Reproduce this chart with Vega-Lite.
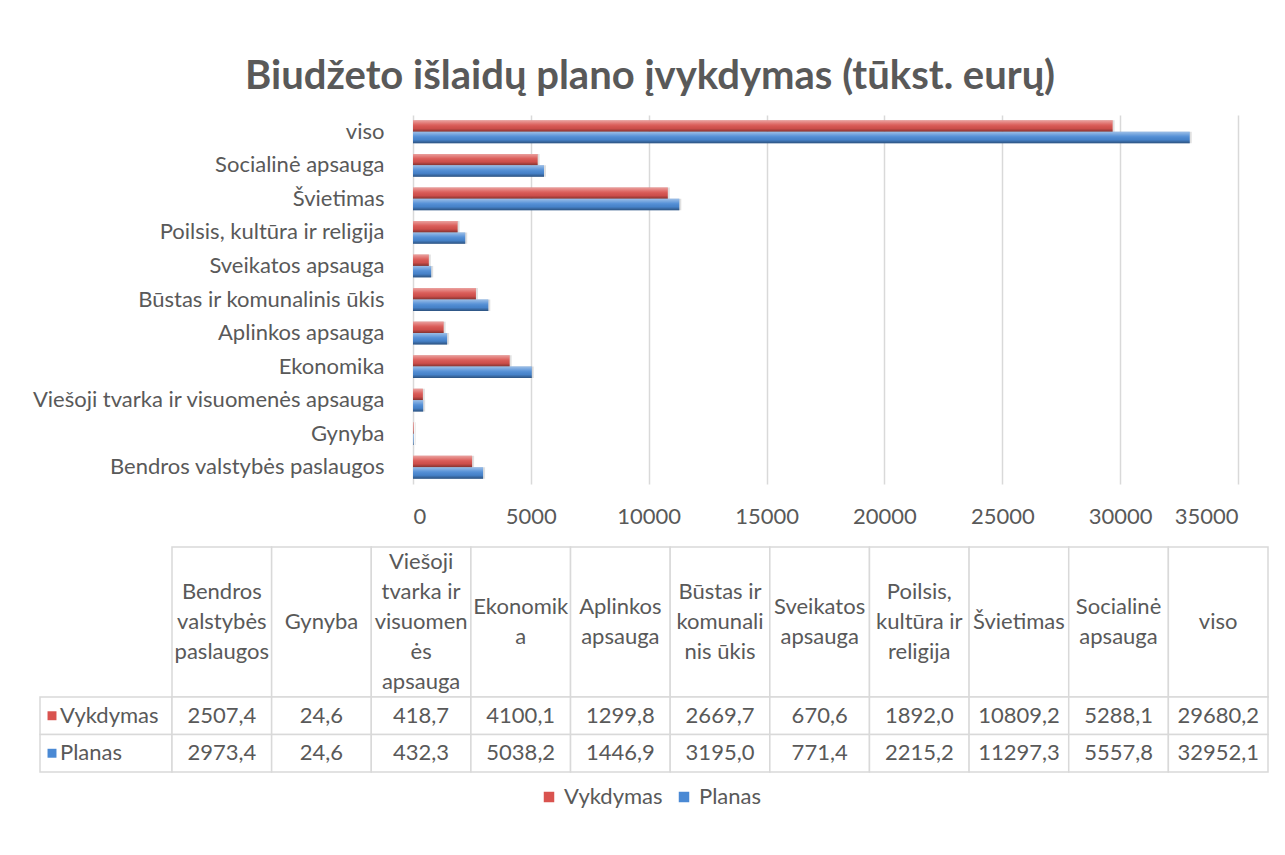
{
  "$schema": "https://vega.github.io/schema/vega-lite/v6.json",
  "padding": {"left": 31, "top": 57, "right": 0, "bottom": 0},
  "background": "white",
  "config": {
    "font": "Lato",
    "locale": {"number": {"decimal": ",", "thousands": "", "grouping": [3], "currency": ["", ""]}},
    "view": {"stroke": null},
    "axis": {"labelFont": "Lato", "labelColor": "#595959"},
    "legend": {"labelFont": "Lato", "labelColor": "#595959", "labelFontSize": 22, "layout": {"bottom": {"anchor": "middle"}}}
  },
  "title": {
    "text": "Biudžeto išlaidų plano įvykdymas (tūkst. eurų)",
    "fontSize": 40,
    "fontWeight": "bold",
    "color": "#595959",
    "font": "Lato",
    "anchor": "middle",
    "offset": 18
  },
  "datasets": {
    "budget": [
      {"cat": "Bendros valstybės paslaugos", "series": "Vykdymas", "value": 2507.4},
      {"cat": "Bendros valstybės paslaugos", "series": "Planas", "value": 2973.4},
      {"cat": "Gynyba", "series": "Vykdymas", "value": 24.6},
      {"cat": "Gynyba", "series": "Planas", "value": 24.6},
      {"cat": "Viešoji tvarka ir visuomenės apsauga", "series": "Vykdymas", "value": 418.7},
      {"cat": "Viešoji tvarka ir visuomenės apsauga", "series": "Planas", "value": 432.3},
      {"cat": "Ekonomika", "series": "Vykdymas", "value": 4100.1},
      {"cat": "Ekonomika", "series": "Planas", "value": 5038.2},
      {"cat": "Aplinkos apsauga", "series": "Vykdymas", "value": 1299.8},
      {"cat": "Aplinkos apsauga", "series": "Planas", "value": 1446.9},
      {"cat": "Būstas ir komunalinis ūkis", "series": "Vykdymas", "value": 2669.7},
      {"cat": "Būstas ir komunalinis ūkis", "series": "Planas", "value": 3195.0},
      {"cat": "Sveikatos apsauga", "series": "Vykdymas", "value": 670.6},
      {"cat": "Sveikatos apsauga", "series": "Planas", "value": 771.4},
      {"cat": "Poilsis, kultūra ir religija", "series": "Vykdymas", "value": 1892.0},
      {"cat": "Poilsis, kultūra ir religija", "series": "Planas", "value": 2215.2},
      {"cat": "Švietimas", "series": "Vykdymas", "value": 10809.2},
      {"cat": "Švietimas", "series": "Planas", "value": 11297.3},
      {"cat": "Socialinė apsauga", "series": "Vykdymas", "value": 5288.1},
      {"cat": "Socialinė apsauga", "series": "Planas", "value": 5557.8},
      {"cat": "viso", "series": "Vykdymas", "value": 29680.2},
      {"cat": "viso", "series": "Planas", "value": 32952.1}
    ],
    "headers": [
      {"cat": "Bendros valstybės paslaugos", "header": "Bendros\nvalstybės\npaslaugos"},
      {"cat": "Gynyba", "header": "Gynyba"},
      {"cat": "Viešoji tvarka ir visuomenės apsauga", "header": "Viešoji\ntvarka ir\nvisuomen\nės\napsauga"},
      {"cat": "Ekonomika", "header": "Ekonomik\na"},
      {"cat": "Aplinkos apsauga", "header": "Aplinkos\napsauga"},
      {"cat": "Būstas ir komunalinis ūkis", "header": "Būstas ir\nkomunali\nnis ūkis"},
      {"cat": "Sveikatos apsauga", "header": "Sveikatos\napsauga"},
      {"cat": "Poilsis, kultūra ir religija", "header": "Poilsis,\nkultūra ir\nreligija"},
      {"cat": "Švietimas", "header": "Švietimas"},
      {"cat": "Socialinė apsauga", "header": "Socialinė\napsauga"},
      {"cat": "viso", "header": "viso"}
    ],
    "series": [
      {"series": "Vykdymas"},
      {"series": "Planas"}
    ]
  },
  "resolve": {"scale": {"color": "shared"}, "legend": {"color": "shared"}},
  "columns": 1,
  "spacing": 19,
  "concat": [
    {
      "width": 1198,
      "height": 369,
      "data": {"name": "budget"},
      "encoding": {
        "y": {
          "field": "cat",
          "type": "nominal",
          "sort": ["viso", "Socialinė apsauga", "Švietimas", "Poilsis, kultūra ir religija", "Sveikatos apsauga", "Būstas ir komunalinis ūkis", "Aplinkos apsauga", "Ekonomika", "Viešoji tvarka ir visuomenės apsauga", "Gynyba", "Bendros valstybės paslaugos"],
          "scale": {"paddingInner": 0.32, "paddingOuter": 0.16},
          "axis": {"title": null, "domain": false, "ticks": false, "offset": -373, "labelPadding": 29, "labelFontSize": 22, "labelLimit": 500}
        },
        "yOffset": {
          "field": "series",
          "type": "nominal",
          "sort": ["Vykdymas", "Planas"],
          "scale": {"paddingInner": 0.0}
        },
        "x": {
          "field": "value",
          "type": "quantitative",
          "scale": {"domain": [0, 35000], "nice": false, "range": [373, 1198]},
          "axis": {"title": null, "values": [0, 5000, 10000, 15000, 20000, 25000, 30000, 35000], "format": "d", "domain": false, "ticks": false, "grid": true, "gridColor": "#D9D9D9", "gridWidth": 1.5, "labelPadding": 22, "labelFontSize": 22}
        }
      },
      "layer": [
        {
          "mark": {"type": "bar", "color": "#000000", "opacity": 0.12, "xOffset": 2, "yOffset": 3},
          "encoding": {}
        },
        {
          "mark": {"type": "bar"},
          "encoding": {
            "color": {
              "field": "series",
              "type": "nominal",
              "scale": {"domain": ["Vykdymas", "Planas"], "range": ["#D9534F", "#4A89D4"]},
              "legend": {"title": null, "orient": "bottom", "direction": "horizontal", "symbolType": "square", "symbolSize": 110, "columnPadding": 10, "labelOffset": 4, "offset": 13}
            }
          }
        },
        {
          "mark": {
            "type": "bar",
            "color": {
              "gradient": "linear", "x1": 0, "y1": 0, "x2": 0, "y2": 1,
              "stops": [
                {"offset": 0, "color": "rgba(255,255,255,0.45)"},
                {"offset": 0.4, "color": "rgba(255,255,255,0.08)"},
                {"offset": 0.7, "color": "rgba(0,0,0,0.05)"},
                {"offset": 1, "color": "rgba(0,0,0,0.4)"}
              ]
            }
          },
          "encoding": {}
        }
      ]
    },
    {
      "columns": 2,
      "spacing": 0,
      "bounds": "flush",
      "concat": [
        {
          "width": 132,
          "height": 150,
          "data": {"values": [{"t": ""}]},
          "mark": {"type": "text"},
          "encoding": {"text": {"field": "t"}}
        },
        {
          "width": 1096,
          "height": 150,
          "data": {"name": "headers"},
          "transform": [{"calculate": "length(split(datum.header, '\\n'))", "as": "nlines"}],
          "encoding": {
            "x": {"field": "cat", "type": "nominal", "sort": ["Bendros valstybės paslaugos", "Gynyba", "Viešoji tvarka ir visuomenės apsauga", "Ekonomika", "Aplinkos apsauga", "Būstas ir komunalinis ūkis", "Sveikatos apsauga", "Poilsis, kultūra ir religija", "Švietimas", "Socialinė apsauga", "viso"], "scale": {"paddingInner": 0, "paddingOuter": 0}, "axis": null}
          },
          "layer": [
            {"mark": {"type": "rect", "fill": "white", "stroke": "#D9D9D9", "strokeWidth": 1.5}, "encoding": {}},
            {
              "mark": {"type": "text", "lineBreak": "\n", "lineHeight": 30, "fontSize": 22, "color": "#595959", "baseline": "middle"},
              "encoding": {
                "text": {"field": "header"},
                "y": {"field": "nlines", "type": "quantitative", "scale": {"domain": [0, 6], "range": [90, 0]}, "axis": null}
              }
            }
          ]
        },
        {
          "width": 132,
          "height": 75,
          "data": {"name": "series"},
          "encoding": {
            "y": {"field": "series", "type": "nominal", "sort": ["Vykdymas", "Planas"], "scale": {"paddingInner": 0, "paddingOuter": 0}, "axis": null}
          },
          "layer": [
            {"mark": {"type": "rect", "fill": "white", "stroke": "#D9D9D9", "strokeWidth": 1.5}, "encoding": {}},
            {"mark": {"type": "point", "shape": "square", "filled": true, "opacity": 1, "size": 80, "xOffset": -54}, "encoding": {"color": {"field": "series", "type": "nominal", "legend": null}}},
            {"mark": {"type": "text", "align": "left", "dx": -46, "fontSize": 22, "color": "#595959"}, "encoding": {"text": {"field": "series"}}}
          ]
        },
        {
          "width": 1096,
          "height": 75,
          "data": {"name": "budget"},
          "encoding": {
            "x": {"field": "cat", "type": "nominal", "sort": ["Bendros valstybės paslaugos", "Gynyba", "Viešoji tvarka ir visuomenės apsauga", "Ekonomika", "Aplinkos apsauga", "Būstas ir komunalinis ūkis", "Sveikatos apsauga", "Poilsis, kultūra ir religija", "Švietimas", "Socialinė apsauga", "viso"], "scale": {"paddingInner": 0, "paddingOuter": 0}, "axis": null},
            "y": {"field": "series", "type": "nominal", "sort": ["Vykdymas", "Planas"], "scale": {"paddingInner": 0, "paddingOuter": 0}, "axis": null}
          },
          "layer": [
            {"mark": {"type": "rect", "fill": "white", "stroke": "#D9D9D9", "strokeWidth": 1.5}, "encoding": {}},
            {"mark": {"type": "text", "fontSize": 22, "color": "#595959"}, "encoding": {"text": {"field": "value", "type": "quantitative", "format": ".1f"}}}
          ]
        }
      ]
    }
  ]
}
